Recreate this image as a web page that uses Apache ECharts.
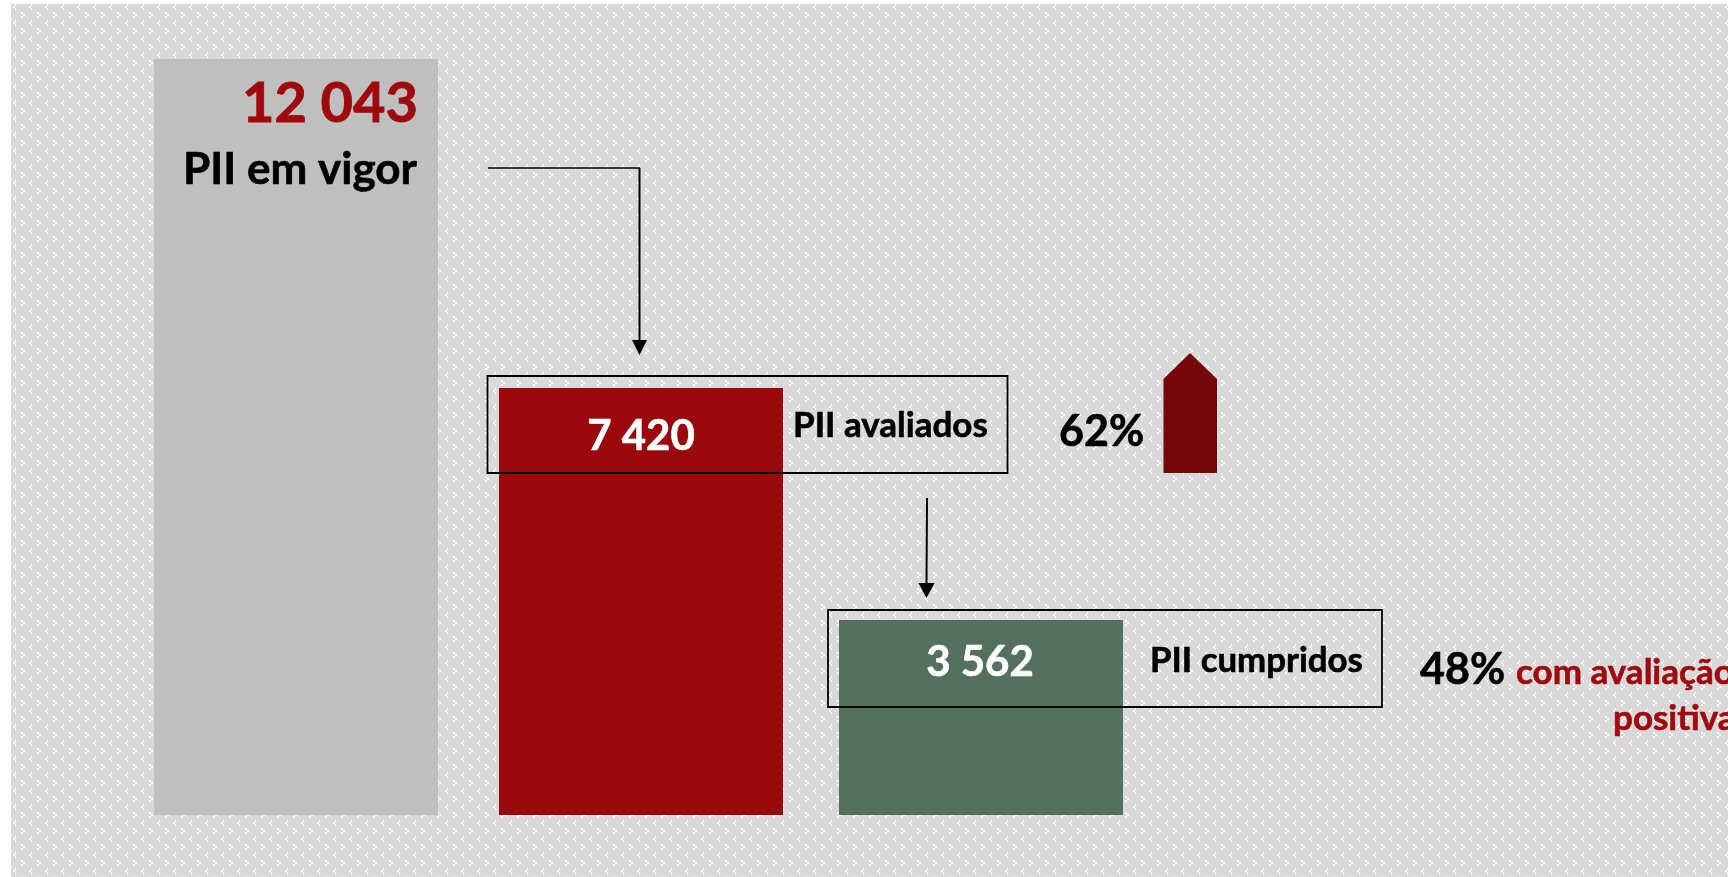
<!DOCTYPE html>
<html><head><meta charset="utf-8">
<style>html,body{margin:0;padding:0;background:#fff;overflow:hidden}#c{width:1728px;height:877px}</style>
<script src="https://cdn.jsdelivr.net/npm/echarts@6/dist/echarts.min.js"></script>
</head><body><div id="c"></div>
<script>
const categories = ['PII em vigor', 'PII avaliados', 'PII cumpridos'];
const values = [12043, 7420, 3562];
const valueLabels = ['12 043', '7 420', '3 562'];
const shareAvaliados = '62%';
const shareCumpridos = '48%';
const shareCumpridosText = ['com avaliação', 'positiva'];
const barColors = ['#bfbfbf', '#9b090d', '#547160'];
const FONT = 'Lato, "Open Sans", sans-serif';

// 16x16 tile of the dotted background
const tile = document.createElement('canvas');
tile.width = tile.height = 16;
const t = tile.getContext('2d');
t.fillStyle = '#d9d9d9'; t.fillRect(0, 0, 16, 16);
t.fillStyle = '#ffffff';
[[15,4],[13,6],[15,8],[5,12],[7,14],[5,0]].forEach(p => t.fillRect(p[0], p[1], 2, 2));

const panels = [
  {left:154, top:59,  width:284, height:756},
  {left:499, top:388, width:284, height:427},
  {left:839, top:620, width:284, height:195}
];
const labelStyles = [
  {position:[264, 45], align:'right', color:'#a00a0e', fontSize:56, textBorderColor:'#a00a0e', textBorderWidth:0.8},
  {position:[142, 48.5], align:'center', color:'#fff', fontSize:42, textBorderColor:'#fff', textBorderWidth:0.6},
  {position:[141, 42.5], align:'center', color:'#fff', fontSize:42, textBorderColor:'#fff', textBorderWidth:0.6}
];

const txt = (x, y, text, size, color, align) => ({
  type:'text', z:100, x, y,
  style:{text, fill:color, stroke:color, lineWidth:0.6, font:`bold ${size}px ${FONT}`, textAlign:align||'left', textVerticalAlign:'middle'}
});
const line = (pts, w) => ({type:'polyline', z:100, shape:{points:pts}, style:{stroke:'#000', lineWidth:w, fill:null}});
const poly = (pts, c) => ({type:'polygon', z:100, shape:{points:pts}, style:{fill:c}});
const box = (x, y, w, h) => ({type:'rect', z:100, shape:{x, y, width:w, height:h}, style:{stroke:'#000', lineWidth:1.8, fill:null}});

const chart = echarts.init(document.getElementById('c'));
chart.setOption({
  animation:false,
  backgroundColor:'#fff',
  grid: panels.map(p => ({...p, containLabel:false, show:false})),
  xAxis: panels.map((p,i) => ({type:'category', gridIndex:i, data:[categories[i]], show:false})),
  yAxis: panels.map((p,i) => ({type:'value', gridIndex:i, min:0, max:values[i], show:false})),
  series: values.map((v,i) => ({
    type:'bar', xAxisIndex:i, yAxisIndex:i, z:5, barWidth:'100%',
    data:[v], itemStyle:{color:barColors[i]}, silent:true,
    label:{show:true, formatter:()=>valueLabels[i], fontFamily:FONT, fontWeight:'bold', verticalAlign:'middle', ...labelStyles[i]}
  })),
  graphic:{elements:[
    {type:'rect', z:-10, shape:{x:11,y:4,width:1717,height:873}, style:{fill:{image:tile, repeat:'repeat'}}},
    txt(417, 170, categories[0], 44, '#000', 'right'),
    line([[488,168],[640,168]], 1.5),
    line([[639.5,168],[639.5,342]], 2),
    poly([[632,340],[647,340],[639.5,355]], '#000'),
    box(487.5,376,520,97),
    txt(793, 426, categories[1], 35, '#000'),
    txt(1059, 432, shareAvaliados, 43, '#000'),
    poly([[1163.5,379],[1190,353],[1217,379],[1217,473],[1163.5,473]], '#75060a'),
    line([[927,498],[926.5,585]], 2),
    poly([[918.5,583],[934.5,583],[926.5,598]], '#000'),
    box(828,610,554,97),
    txt(1150, 661, categories[2], 34.8, '#000'),
    txt(1420, 670, shareCumpridos, 43, '#000'),
    txt(1516, 673, shareCumpridosText[0], 35, '#a00a0e'),
    txt(1613, 719, shareCumpridosText[1], 35, '#a00a0e')
  ]}
});
</script></body></html>
